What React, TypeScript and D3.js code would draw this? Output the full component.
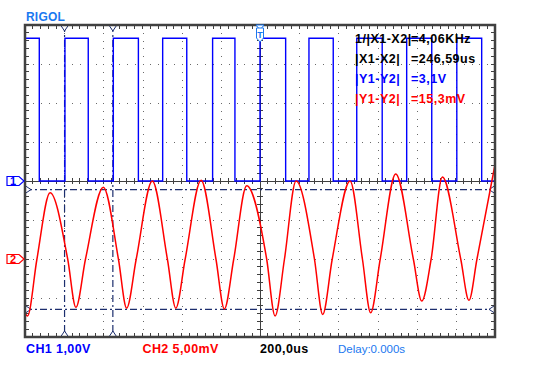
import React, { useEffect, useRef } from 'react'
import * as d3 from 'd3'

// ================================================================== //
// Rigol scope screen: CH1 square wave + CH2 sine, two X and two Y cursors
// all times in us, ch1 in V, ch2 in mV

// CH1 edges (square wave starts high at left of screen)
const ch1EdgeTimes = [-1127, -996, -877, -749, -621, -497, -374, -242, -128, 0, 131, 250, 374, 494, 624, 749, 877, 1005, 1132]
const ch1High = 3.66
const ch1Low = 0

// CH2 peaks, valleys and ground crossings
const ch2Times = [
    -1200, -1187, -1139, -1072, -982, -940, -891, -800, -723, -681, -632, -550, -473, -430, -382,
    -301, -225, -182, -134, -68, 34, 77, 125, 184, 278, 320, 369, 460, 523, 565, 614,
    693, 783, 826, 874, 931, 1025, 1067, 1108, 1200,
]
const ch2Values = [
    -6.9, -7.3, 0, 8.5, 0, -6.2, 0, 9.2, 0, -6.3, 0, 10.0, 0, -6.3, 0,
    10.1, 0, -6.4, 0, 9.4, 0, -7.3, 0, 10.0, 0, -7.1, 0, 10.0, 0, -6.9, 0,
    10.9, 0, -5.4, 0, 10.5, 0, -5.3, 0, 12.1,
]

// cursors
const xCursors = [-998, -751.4]
const yCursors = [8.9, -6.45]

// readouts
const readLabels = ['1/|X1-X2|', '|X1-X2|', '|Y1-Y2|', '|Y1-Y2|']
const readValues = ['=4,06KHz', '=246,59us', '=3,1V', '=15,3mV']

const BLUE = '#0000ff'
const RED = '#ff0000'
const LIGHTBLUE = '#1a78f0'
const NAVY = '#1c2e6e'
const FRAME = '#404040'
const FONT = "'Liberation Sans', Arial, sans-serif"

export default function App() {
    const ref = useRef<SVGSVGElement>(null)

    useEffect(() => {
        const svg = d3.select(ref.current)
        svg.selectAll('*').remove()

        const L = 25, R = 495, T = 25, B = 337
        const dx = (R - L) / 12, dy = (B - T) / 8

        const x = d3.scaleLinear().domain([-1200, 1200]).range([L, R])
        const y1 = d3.scaleLinear().domain([-4, 4]).range([B, T])
        const y2 = d3.scaleLinear().domain([-10, 30]).range([B, T])

        const cx = x(0), cy = y1(0)

        // grid dots
        const dots = svg.append('g').attr('fill', '#6a6a6a')
        for (let i = 1; i < 12; i++) {
            if (i == 6) continue
            for (let j = 1; j < 40; j++) {
                dots.append('rect').attr('x', Math.round(L + i * dx)).attr('y', Math.round(T + j * dy / 5)).attr('width', 1).attr('height', 1)
            }
        }
        for (let j = 1; j < 8; j++) {
            if (j == 4) continue
            for (let i = 1; i < 60; i++) {
                dots.append('rect').attr('x', Math.round(L + i * dx / 5)).attr('y', Math.round(T + j * dy)).attr('width', 1).attr('height', 1)
            }
        }

        // center axes with ticks
        const axes = svg.append('g').attr('stroke', FRAME).attr('stroke-width', 1).attr('shape-rendering', 'crispEdges')
        axes.append('line').attr('x1', cx).attr('x2', cx).attr('y1', T).attr('y2', B)
        axes.append('line').attr('x1', L).attr('x2', R).attr('y1', cy).attr('y2', cy)
        for (let j = 1; j < 40; j++) {
            const yy = T + j * dy / 5
            axes.append('line').attr('x1', cx - 3).attr('x2', cx + 3).attr('y1', yy).attr('y2', yy)
            axes.append('line').attr('x1', L).attr('x2', L + 4).attr('y1', yy).attr('y2', yy)
            axes.append('line').attr('x1', R - 4).attr('x2', R).attr('y1', yy).attr('y2', yy)
        }
        for (let i = 1; i < 60; i++) {
            const xx = L + i * dx / 5
            axes.append('line').attr('x1', xx).attr('x2', xx).attr('y1', cy - 3).attr('y2', cy + 3)
            axes.append('line').attr('x1', xx).attr('x2', xx).attr('y1', T).attr('y2', T + 4)
            axes.append('line').attr('x1', xx).attr('x2', xx).attr('y1', B - 4).attr('y2', B)
        }

        // cursors
        const cur = svg.append('g').attr('stroke', NAVY).attr('stroke-width', 1.2).attr('stroke-dasharray', '7,3,2,3')
        xCursors.forEach(t => {
            cur.append('line').attr('x1', x(t)).attr('x2', x(t)).attr('y1', T).attr('y2', B)
        })
        yCursors.forEach(v => {
            cur.append('line').attr('x1', L).attr('x2', R).attr('y1', y2(v)).attr('y2', y2(v))
        })
        const curMarks = svg.append('g').attr('stroke', NAVY).attr('stroke-width', 1).attr('fill', 'white')
        xCursors.forEach(t => {
            const xx = x(t)
            curMarks.append('path').attr('d', `M${xx - 4},${T} L${xx + 4},${T} L${xx},${T + 6} Z`)
            curMarks.append('path').attr('d', `M${xx - 4},${B} L${xx + 4},${B} L${xx},${B - 6} Z`)
        })
        yCursors.forEach(v => {
            const yy = y2(v)
            curMarks.append('path').attr('d', `M${L},${yy - 4} L${L},${yy + 4} L${L + 6},${yy} Z`)
            curMarks.append('path').attr('d', `M${R},${yy - 4} L${R},${yy + 4} L${R - 6},${yy} Z`)
        })

        // CH1 square wave
        const ch1Pts: [number, number][] = [[-1200, ch1High]]
        ch1EdgeTimes.forEach((t, i) => ch1Pts.push([t, i % 2 == 0 ? ch1Low : ch1High]))
        ch1Pts.push([1200, ch1Pts[ch1Pts.length - 1][1]])
        const stepLine = d3.line<[number, number]>()
            .x(d => x(d[0]))
            .y(d => y1(d[1]))
            .curve(d3.curveStepAfter)
        svg.append('path')
            .attr('d', stepLine(ch1Pts))
            .attr('fill', 'none')
            .attr('stroke', BLUE)
            .attr('stroke-width', 1.4)

        // CH2 sine
        const sineLine = d3.line<number>()
            .x((d, i) => x(ch2Times[i]))
            .y(d => y2(d))
            .curve(d3.curveMonotoneX)
        svg.append('path')
            .attr('d', sineLine(ch2Values))
            .attr('fill', 'none')
            .attr('stroke', RED)
            .attr('stroke-width', 1.5)

        // frame
        svg.append('rect')
            .attr('x', L).attr('y', T).attr('width', R - L).attr('height', B - T)
            .attr('fill', 'none').attr('stroke', FRAME).attr('stroke-width', 2.5)

        // channel markers
        const chMark = (yy: number, label: string, color: string) => {
            svg.append('path')
                .attr('d', `M7,${yy - 4.5} H19 L24,${yy} L19,${yy + 4.5} H7 Z`)
                .attr('fill', 'white').attr('stroke', color).attr('stroke-width', 1.2)
            svg.append('text')
                .attr('x', 13).attr('y', yy + 4)
                .attr('text-anchor', 'middle')
                .attr('font-family', FONT).attr('font-size', 11).attr('font-weight', 'bold')
                .attr('fill', color)
                .text(label)
        }
        chMark(y1(0), '1', BLUE)
        chMark(y2(0), '2', RED)

        // trigger position marker
        svg.append('path')
            .attr('d', `M${cx - 4},${T} L${cx + 4},${T} L${cx},${T + 5} Z`)
            .attr('fill', 'white').attr('stroke', LIGHTBLUE)
        svg.append('path')
            .attr('d', `M${cx - 3.5},${T + 3} H${cx + 3.5} V${T + 13} L${cx},${T + 17} L${cx - 3.5},${T + 13} Z`)
            .attr('fill', 'white').attr('stroke', LIGHTBLUE)
        svg.append('text')
            .attr('x', cx).attr('y', T + 13)
            .attr('text-anchor', 'middle')
            .attr('font-family', FONT).attr('font-size', 9).attr('font-weight', 'bold')
            .attr('fill', LIGHTBLUE)
            .text('T')

        // readouts
        const readColors = ['#000', '#000', BLUE, RED]
        readLabels.forEach((l, i) => {
            const g = svg.append('g')
                .attr('font-family', FONT).attr('font-size', 12.5).attr('font-weight', 'bold')
                .attr('letter-spacing', 0.5)
                .attr('fill', readColors[i])
            g.append('text').attr('x', 355).attr('y', 43 + i * 20).text(l)
            g.append('text').attr('x', 411).attr('y', 43 + i * 20).text(readValues[i])
        })

        // header + footer
        svg.append('text').attr('x', 26).attr('y', 20.5)
            .attr('font-family', FONT).attr('font-size', 12).attr('font-weight', 'bold')
            .attr('letter-spacing', 0.2)
            .attr('fill', LIGHTBLUE).text('RIGOL')

        const foot = [
            { text: 'CH1 1,00V', x: 26, color: BLUE, bold: true },
            { text: 'CH2 5,00mV', x: 142.5, color: RED, bold: true },
            { text: '200,0us', x: 260, color: '#000', bold: true },
            { text: 'Delay:0.000s', x: 338, color: LIGHTBLUE, bold: false },
        ]
        foot.forEach(f => {
            svg.append('text').attr('x', f.x).attr('y', 352.7)
                .attr('font-family', FONT).attr('font-size', f.bold ? 12.5 : 11.5)
                .attr('font-weight', f.bold ? 'bold' : 'normal')
                .attr('letter-spacing', f.bold ? 0.4 : 0)
                .attr('fill', f.color).text(f.text)
        })
    }, [])

    return (
        <svg ref={ref} width={547} height={391}
            style={{ position: 'absolute', left: 0, top: 0, background: 'white' }} />
    )
}
